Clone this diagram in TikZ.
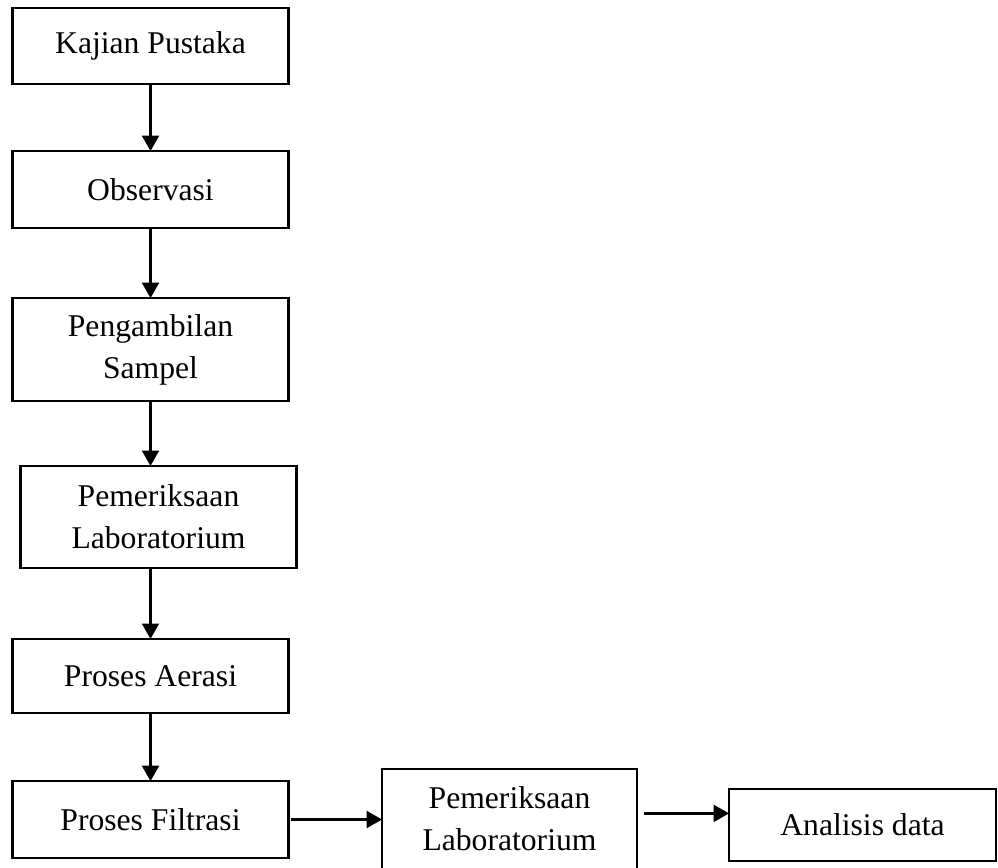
\documentclass[tikz,border=0pt]{standalone}
\usepackage{fontspec}
\setmainfont{Liberation Serif}
\usepackage{tikz}
\usetikzlibrary{shapes,arrows.meta}

\begin{document}
\begin{tikzpicture}[x=0.025cm, y=-0.025cm]%
  \tikzset{flow arrow/.style={draw,-{Triangle[length=11pt,width=12pt]},line width=1.8pt,black}}
  \tikzstyle{every node}=[draw, rectangle, line width=1.6pt, minimum width=6.9cm, outer sep=0pt, inner sep=0pt, align=center, font=\fontsize{22.5}{30}\selectfont]

  \useasboundingbox (0,0) rectangle (998,867);

  \node[minimum height=1.9cm] at (150.5,46) (kajian) {Kajian Pustaka};
  \node[minimum height=1.92cm] at (150.5,189.5) (observasi) {Observasi};
  \node[minimum height=2.57cm] at (150.5,349.5) (sampel) {Pengambilan\\Sampel};
  \node[minimum height=2.55cm] at (158.5,517) (lab1) {Pemeriksaan\\Laboratorium};
  \node[minimum height=1.85cm] at (150.5,676) (aerasi) {Proses Aerasi};
  \node[minimum height=1.92cm] at (150.5,819.5) (filtrasi) {Proses Filtrasi};
  \node[minimum width=6.37cm, minimum height=2.5cm] at (509.5,819) (lab2) {Pemeriksaan\\Laboratorium};
  \node[minimum width=6.67cm, minimum height=1.8cm] at (862.5,825) (analisis) {Analisis data};

  %\path[flow arrow] (kajian) edge (analisis);
  \path[flow arrow] (kajian.south) -- (observasi.north);
  \path[flow arrow] (observasi.south) -- (sampel.north);
  \path[flow arrow] (sampel.south) -- (sampel.south |- lab1.north);
  \path[flow arrow] (sampel.south |- lab1.south) -- (sampel.south |- aerasi.north);
  \path[flow arrow] (aerasi.south) -- (filtrasi.north);
  \path[flow arrow] ([xshift=2pt]filtrasi.east) -- (filtrasi.east -| lab2.west);
  \path[flow arrow] ([xshift=5pt,yshift=4pt]lab2.east) -- ([yshift=4pt]lab2.east -| analisis.west);

\end{tikzpicture}
\end{document}
